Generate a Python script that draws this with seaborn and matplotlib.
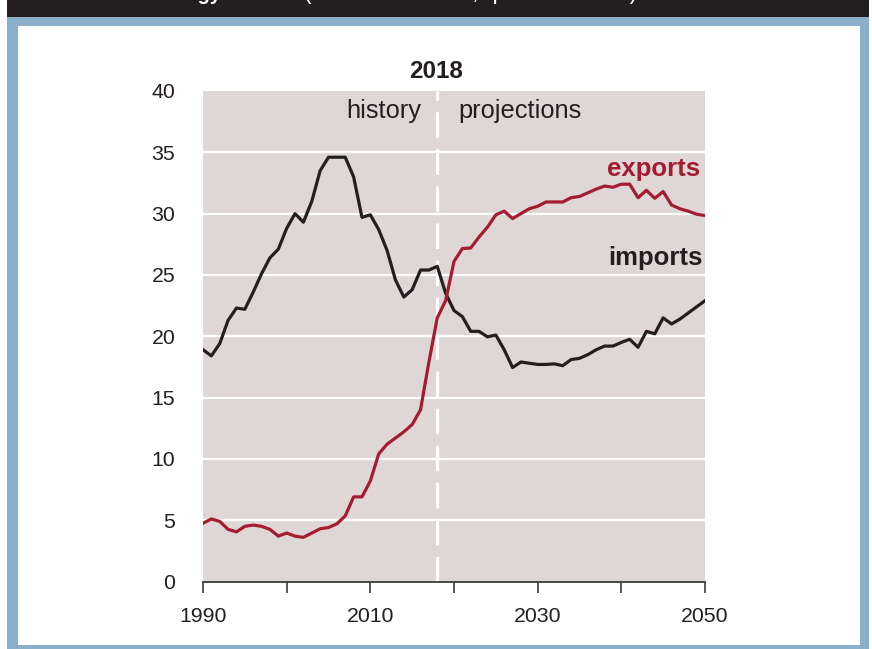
import matplotlib
matplotlib.use("Agg")
import matplotlib.pyplot as plt
from matplotlib.patches import Rectangle
import seaborn as sns
import pandas as pd
import numpy as np

years = list(range(1990, 2051))
imports = [18.9, 18.4, 19.4, 21.3, 22.3, 22.2, 23.6, 25.1, 26.4, 27.1,
           28.8, 30.0, 29.3, 31.0, 33.5, 34.6, 34.6, 34.6, 33.0, 29.7,
           29.9, 28.7, 27.0, 24.6, 23.2, 23.8, 25.4, 25.4, 25.7, 23.5,
           22.1, 21.6, 20.4, 20.4, 19.95, 20.1, 18.9, 17.45, 17.9, 17.8,
           17.7, 17.7, 17.75, 17.6, 18.1, 18.2, 18.5, 18.9, 19.2, 19.2,
           19.5, 19.75, 19.1, 20.4, 20.2, 21.5, 21.0, 21.4, 21.9, 22.4,
           22.9]
exports = [4.75, 5.1, 4.9, 4.25, 4.05, 4.5, 4.6, 4.5, 4.25, 3.7,
           3.95, 3.7, 3.6, 3.95, 4.3, 4.4, 4.7, 5.35, 6.9, 6.9,
           8.2, 10.4, 11.2, 11.7, 12.2, 12.8, 14.0, 17.9, 21.5, 22.9,
           26.1, 27.15, 27.2, 28.1, 28.9, 29.9, 30.2, 29.6, 30.0, 30.4,
           30.6, 30.95, 30.95, 30.95, 31.3, 31.4, 31.7, 32.0, 32.25, 32.15,
           32.4, 32.4, 31.3, 31.9, 31.25, 31.8, 30.7, 30.4, 30.2, 29.95,
           29.85]
series_names = ["imports", "exports"]
split_year = 2018
xticks = [1990, 2000, 2010, 2020, 2030, 2040, 2050]
xtick_labels = ["1990", "", "2010", "", "2030", "", "2050"]
yticks = [0, 5, 10, 15, 20, 25, 30, 35, 40]
title_bold = "U.S. energy trade"
title_rest = "(Reference case, quadrillion Btu)"

RED = "#a51c30"
BLACK = "#231f20"
BG = "#ded7d6"
BLUE = "#8aafcb"
FONT = ["Liberation Sans", "DejaVu Sans"]

df = pd.DataFrame({
    "year": years * 2,
    "value": imports + exports,
    "series": [series_names[0]] * len(years) + [series_names[1]] * len(years),
})

plt.rcParams["font.family"] = FONT
fig = plt.figure(figsize=(8.72, 6.49), dpi=100)
W, H = 872, 649

def frect(x0, y0, x1, y1, color, z=0):
    # pixel coords from top-left
    fig.patches.append(Rectangle((x0 / W, 1 - y1 / H), (x1 - x0) / W, (y1 - y0) / H,
                                 transform=fig.transFigure, color=color, zorder=z, lw=0))

frect(6.7, 0, 869, 649, BLUE, 0)
frect(6.7, 0, 869, 16.5, BLACK, 1)
frect(18, 25.5, 859.5, 645, "white", 1)

# title of the original figure, cropped at the top edge as in the reference
fig.text(110 / W, 1 + 0.5 / H, title_bold, ha="left", va="baseline",
         color="white", fontsize=14.5, fontweight="bold", zorder=3)
fig.text(304 / W, 1 + 0.5 / H, title_rest, ha="left", va="baseline",
         color="white", fontsize=16.5, zorder=3)

ax = fig.add_axes([203 / W, 1 - 581.5 / H, (705 - 203) / W, (581.5 - 91) / H])
ax.set_zorder(2)
ax.set_facecolor(BG)

sns.lineplot(data=df, x="year", y="value", hue="series",
             palette={"imports": BLACK, "exports": RED}, linewidth=2.3,
             legend=False, ax=ax, zorder=4)

ax.set_xlim(1990, 2050)
ax.set_ylim(0, 40)
ax.set_xlabel("")
ax.set_ylabel("")

ax.set_xticks(xticks)
ax.set_xticklabels(xtick_labels)
ax.set_yticks(yticks)
ax.set_yticklabels([str(v) for v in yticks])
ax.tick_params(axis="x", direction="out", length=8, width=1.2, color="#3a3a3a",
               pad=10, labelsize=15.3, labelcolor=BLACK)
ax.tick_params(axis="y", length=0, pad=20, labelsize=15.3, labelcolor=BLACK)

ax.yaxis.grid(True, color="white", linewidth=1.6)
ax.xaxis.grid(False)
ax.set_axisbelow(True)
ax.get_ygridlines()[-1].set_visible(False)
ax.get_ygridlines()[0].set_visible(False)

for s in ["top", "right", "left"]:
    ax.spines[s].set_visible(False)
ax.spines["bottom"].set_color("#3a3a3a")
ax.spines["bottom"].set_linewidth(1.3)
ax.spines["bottom"].set_zorder(6)

ax.axvline(split_year, color="white", linewidth=2.3, linestyle=(0, (8, 3.6)), zorder=3)

ax.text(2017.8, 41.1, str(split_year), ha="center", va="baseline", fontsize=17.5,
        fontweight="bold", color=BLACK, clip_on=False)
ax.text(2016.05, 37.8, "history", ha="right", va="baseline", fontsize=18.3, color=BLACK)
ax.text(2020.5, 37.8, "projections", ha="left", va="baseline", fontsize=18.3, color=BLACK)
ax.text(2049.4, 33.1, "exports", ha="right", va="baseline", fontsize=18.5,
        fontweight="bold", color=RED)
ax.text(2049.7, 25.8, "imports", ha="right", va="baseline", fontsize=18.5,
        fontweight="bold", color=BLACK)

fig.savefig("out.png", dpi=100)
